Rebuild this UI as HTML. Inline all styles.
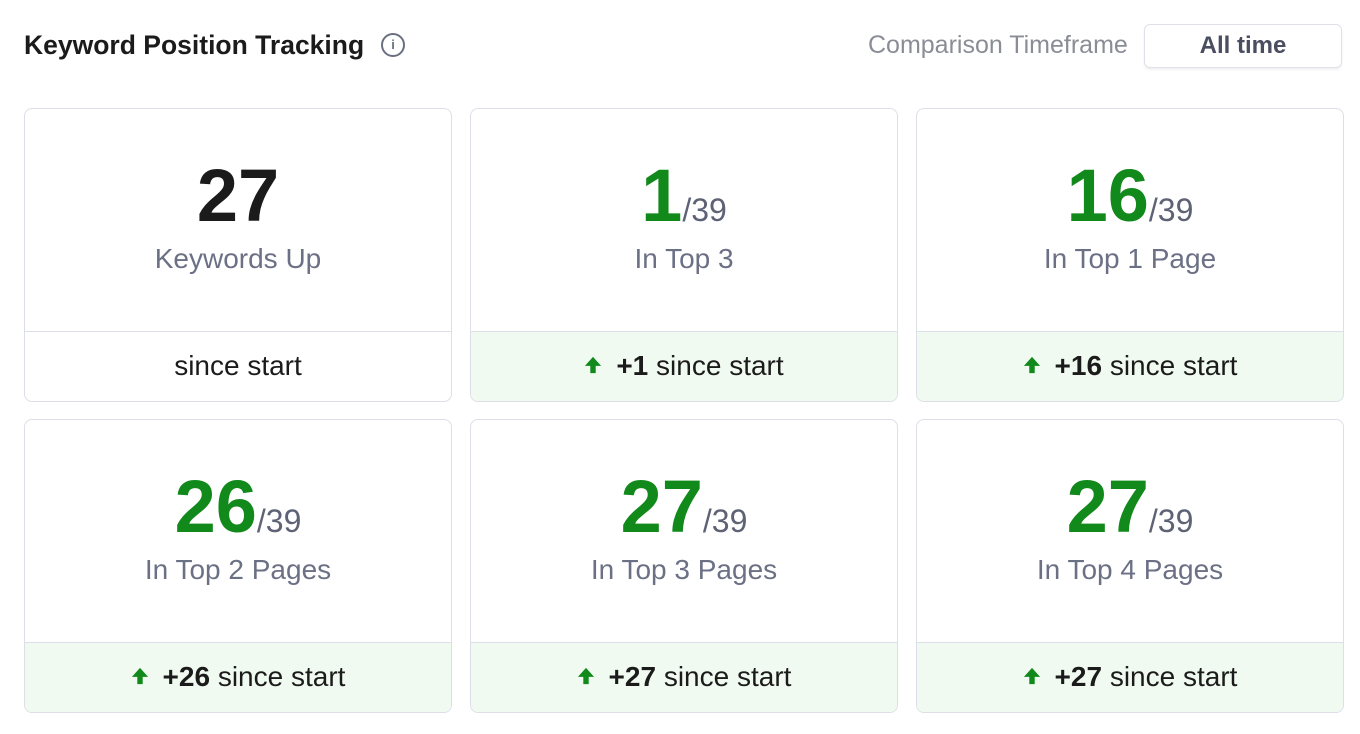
<!DOCTYPE html>
<html><head><style>
body{margin:0;width:1360px;height:734px;background:#fff;font-family:"Liberation Sans",sans-serif;position:relative;overflow:hidden}
.title{position:absolute;left:24px;top:30px;font-size:26.5px;font-weight:bold;color:#1b1b1b}
.info{position:absolute;left:381px;top:33px;width:24px;height:24px;border:2px solid #6b7080;border-radius:50%;box-sizing:border-box;color:#6b7080;font-size:13px;font-weight:bold;text-align:center;line-height:20px}
.ct{position:absolute;left:868px;top:31px;font-size:25px;color:#8a8d96}
.btn{position:absolute;left:1144px;top:24px;width:198px;height:44px;border:1px solid #dfe1e8;border-radius:6px;box-sizing:border-box;box-shadow:0 2px 2px rgba(0,0,0,.06);text-align:center;line-height:42px;font-size:24px;font-weight:bold;color:#4a4e60}
.card{position:absolute;width:428px;height:294px;border:1.5px solid #dcdfe7;border-radius:8px;box-sizing:border-box;overflow:hidden}
.top{height:222px;border-bottom:1.5px solid #dcdfe7;text-align:center;position:relative}
.num{position:absolute;left:0;right:0;top:49px;font-size:74px;font-weight:bold;line-height:76px}
.num.g{color:#11891b}.num.k{color:#1b1b1b}
.num span{font-size:32px;font-weight:normal;color:#5e6275}
.lab{position:absolute;left:0;right:0;top:134px;font-size:28px;color:#6b7085}
.foot{height:72px;line-height:68px;text-align:center;font-size:28px;color:#1b1b1b}
.foot.gr{background:#f1faf1}
.foot b{font-weight:bold}
.arr{display:inline-block;vertical-align:middle;margin-right:14px;margin-top:-6px}
</style></head><body>
<div class="title">Keyword Position Tracking</div>
<div class="info">i</div>
<div class="ct">Comparison Timeframe</div>
<div class="btn">All time</div>

<div class="card" style="left:24px;top:108px"><div class="top"><div class="num k">27</div><div class="lab">Keywords Up</div></div><div class="foot">since start</div></div>
<div class="card" style="left:470px;top:108px"><div class="top"><div class="num g">1<span>/39</span></div><div class="lab">In Top 3</div></div><div class="foot gr"><svg class="arr" width="18" height="18" viewBox="0 0 20 20"><path d="M10 1 L19 11 H13 V19 H7 V11 H1 Z" fill="#11891b"/></svg><b>+1</b> since start</div></div>
<div class="card" style="left:916px;top:108px"><div class="top"><div class="num g">16<span>/39</span></div><div class="lab">In Top 1 Page</div></div><div class="foot gr"><svg class="arr" width="18" height="18" viewBox="0 0 20 20"><path d="M10 1 L19 11 H13 V19 H7 V11 H1 Z" fill="#11891b"/></svg><b>+16</b> since start</div></div>

<div class="card" style="left:24px;top:419px"><div class="top"><div class="num g">26<span>/39</span></div><div class="lab">In Top 2 Pages</div></div><div class="foot gr"><svg class="arr" width="18" height="18" viewBox="0 0 20 20"><path d="M10 1 L19 11 H13 V19 H7 V11 H1 Z" fill="#11891b"/></svg><b>+26</b> since start</div></div>
<div class="card" style="left:470px;top:419px"><div class="top"><div class="num g">27<span>/39</span></div><div class="lab">In Top 3 Pages</div></div><div class="foot gr"><svg class="arr" width="18" height="18" viewBox="0 0 20 20"><path d="M10 1 L19 11 H13 V19 H7 V11 H1 Z" fill="#11891b"/></svg><b>+27</b> since start</div></div>
<div class="card" style="left:916px;top:419px"><div class="top"><div class="num g">27<span>/39</span></div><div class="lab">In Top 4 Pages</div></div><div class="foot gr"><svg class="arr" width="18" height="18" viewBox="0 0 20 20"><path d="M10 1 L19 11 H13 V19 H7 V11 H1 Z" fill="#11891b"/></svg><b>+27</b> since start</div></div>
</body></html>
